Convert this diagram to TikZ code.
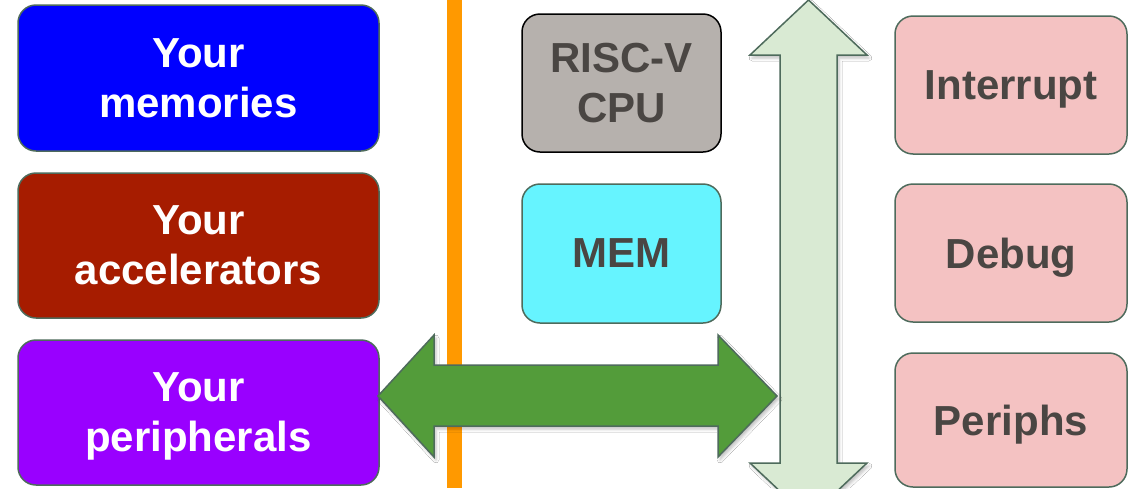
\documentclass[tikz,border=0pt]{standalone}
\usepackage{fontspec}
\setmainfont{Liberation Sans}
\usetikzlibrary{shadows.blur}
\definecolor{cblue}{HTML}{0000FF}
\definecolor{cacc}{HTML}{A61C00}
\definecolor{cper}{HTML}{9900FF}
\definecolor{ccpu}{HTML}{B6B1AD}
\definecolor{cmem}{HTML}{66F4FF}
\definecolor{cpink}{HTML}{F4C2C2}
\definecolor{cbus}{HTML}{D9EAD3}
\definecolor{cgreen}{HTML}{539C3A}
\definecolor{cedge}{HTML}{4E6B5C}
\definecolor{ctext}{HTML}{4A4643}
\definecolor{corange}{HTML}{FF9900}
\newcommand{\nodepth}[1]{\raisebox{0pt}[\height][0pt]{#1}}
\tikzset{
  box/.style={draw=cedge, line width=1.5pt, rounded corners=18pt, inner sep=0pt,
    align=center, font=\bfseries\fontsize{42}{50}\selectfont},
  lbox/.style={box, minimum width=361pt, minimum height=145pt, text=white},
  mbox/.style={box, minimum width=199pt, minimum height=138pt, text=ctext},
  rbox/.style={box, fill=cpink, minimum width=232pt, minimum height=138pt, text=ctext},
  arrowshape/.style={draw=cedge, line width=1.5pt, line join=miter,
    blur shadow={shadow xshift=2pt, shadow yshift=-3pt, shadow blur radius=3pt, shadow opacity=25}}
}
\begin{document}
\begin{tikzpicture}[x=1pt,y=-1pt]
\clip (0,0) rectangle (1133,488);
\fill[white] (0,0) rectangle (1133,488);
% left boxes
\node[lbox, fill=cblue, minimum height=146pt] (mem) at (198.5,78) {Your\\memories};
\node[lbox, fill=cacc] (acc) at (198.5,245.5) {Your\\accelerators};
\node[lbox, fill=cper] (per) at (198.5,412.5) {Your\\\nodepth{peripherals}};
% orange divider
\coordinate (otop) at (454,0);
\coordinate (obot) at (454,488);
\draw[corange, line width=15pt] (otop) -- (obot);
% middle boxes
\node[mbox, fill=ccpu, draw=black] (cpu) at (621.5,83) {RISC-V\\CPU};
\node[mbox, fill=cmem, minimum height=139pt] (memb) at (621.5,253.5) {MEM};
% right boxes
\node[rbox] (int) at (1011,85) {\nodepth{Interrupt}};
\node[rbox] (dbg) at (1011,253) {\nodepth{Debug}};
\node[rbox, minimum height=134pt] (prf) at (1011,420) {\nodepth{Periphs}};
% vertical bus arrow
\coordinate (bustop) at (808.5,0);
\coordinate (busbot) at (808.5,518);
\draw[arrowshape, fill=cbus] (bustop) -- (867,55) -- (837,55) -- (837,463) -- (867,463)
  -- (busbot) -- (750,463) -- (780,463) -- (780,55) -- (750,55) -- cycle;
% green double arrow
\coordinate (gl) at (378,396);
\coordinate (gr) at (777,396);
\draw[arrowshape, fill=cgreen] (gl) -- (434,335) -- (434,365) -- (718,365) -- (718,335)
  -- (gr) -- (718,457) -- (718,426) -- (434,426) -- (434,457) -- cycle;
\end{tikzpicture}
\end{document}
